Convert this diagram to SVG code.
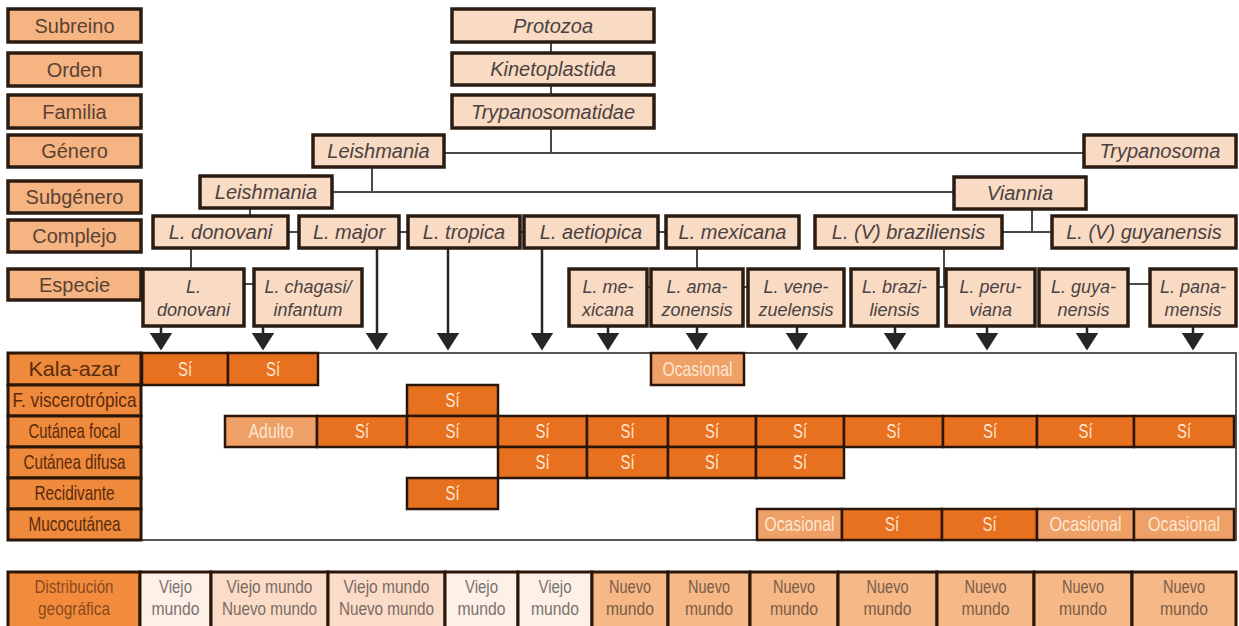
<svg xmlns="http://www.w3.org/2000/svg" width="1239" height="626" viewBox="0 0 1239 626">
<defs>
<style>
.lab rect{fill:#F5B482;stroke:#2a1c12;stroke-width:3.5}
.lab text{font-family:"Liberation Sans",Arial,sans-serif;font-size:20px;fill:#5a4232;text-anchor:middle}
.nd rect{fill:#F9DAC2;stroke:#2a1c12;stroke-width:3.5}
.nd text{font-family:"Liberation Sans",Arial,sans-serif;font-size:20px;font-style:italic;fill:#4a4242;text-anchor:middle}
.sp text{font-size:18px}
.con line{stroke:#4a4a4a;stroke-width:2}
.arr line{stroke:#262626;stroke-width:2.5}
.rl rect{fill:#EF8A3C;stroke:#2a1608;stroke-width:3}
.rl text{font-family:"Liberation Sans",Arial,sans-serif;font-size:21px;fill:#5a2a0c;text-anchor:middle}
.c rect{stroke:#2a1608;stroke-width:2.5}
.c text{font-family:"Liberation Sans",Arial,sans-serif;font-size:21px;fill:#FDE6D2;text-anchor:middle}
.si{fill:#E8711F}
.oc{fill:#EEA066}
.bt rect{stroke:#2a1608;stroke-width:3}
.bt text{font-family:"Liberation Sans",Arial,sans-serif;font-size:18.5px;text-anchor:middle}
</style>
<marker id="ah" markerUnits="userSpaceOnUse" markerWidth="23" markerHeight="18" viewBox="0 0 23 18" refX="11.5" refY="0.5" orient="0">
<path d="M0,0 L23,0 L11.5,18 Z" fill="#262626"/>
</marker>
</defs>
<rect width="1239" height="626" fill="#ffffff"/>

<!-- rank labels -->
<g id="rank-labels" class="lab">
<g id="lab-subreino"><rect x="8" y="9" width="133" height="33"/><text x="74.5" y="33">Subreino</text></g>
<g id="lab-orden"><rect x="8" y="53" width="133" height="33"/><text x="74.5" y="77">Orden</text></g>
<g id="lab-familia"><rect x="8" y="95" width="133" height="33"/><text x="74.5" y="119">Familia</text></g>
<g id="lab-genero"><rect x="8" y="135" width="133" height="32"/><text x="74.5" y="158">Género</text></g>
<g id="lab-subgenero"><rect x="8" y="181" width="133" height="32"/><text x="74.5" y="204">Subgénero</text></g>
<g id="lab-complejo"><rect x="8" y="220" width="133" height="32"/><text x="74.5" y="243">Complejo</text></g>
<g id="lab-especie"><rect x="8" y="269" width="133" height="31"/><text x="74.5" y="292">Especie</text></g>
</g>

<!-- connectors -->
<g id="connectors">
<g class="con">
<line x1="551" y1="42" x2="551" y2="53"/>
<line x1="551" y1="85" x2="551" y2="95"/>
<line x1="551" y1="128" x2="551" y2="153"/>
<line x1="444" y1="153" x2="1084" y2="153"/>
<line x1="372" y1="167" x2="372" y2="192"/>
<line x1="332" y1="192" x2="954" y2="192"/>
<line x1="250" y1="208" x2="250" y2="216"/>
<line x1="1032" y1="209" x2="1032" y2="232"/>
<line x1="1002" y1="232" x2="1052" y2="232"/>
<line x1="288" y1="232" x2="299" y2="232"/>
<line x1="399" y1="232" x2="408" y2="232"/>
<line x1="520" y1="232" x2="524" y2="232"/>
<line x1="658" y1="232" x2="666" y2="232"/>
<line x1="191" y1="248" x2="191" y2="268"/>
<line x1="244" y1="284" x2="254" y2="284"/>
<line x1="697" y1="248" x2="697" y2="268"/>
<line x1="647" y1="287" x2="651" y2="287"/>
<line x1="743" y1="287" x2="748" y2="287"/>
<line x1="944" y1="248" x2="944" y2="287"/>
<line x1="938" y1="287" x2="946" y2="287"/>
<line x1="1128" y1="284" x2="1150" y2="284"/>
</g>
<g class="arr">
<line x1="161" y1="326" x2="161" y2="333" marker-end="url(#ah)"/>
<line x1="263" y1="326" x2="263" y2="333" marker-end="url(#ah)"/>
<line x1="377" y1="248" x2="377" y2="333" marker-end="url(#ah)"/>
<line x1="448" y1="248" x2="448" y2="333" marker-end="url(#ah)"/>
<line x1="542" y1="248" x2="542" y2="333" marker-end="url(#ah)"/>
<line x1="608" y1="326" x2="608" y2="333" marker-end="url(#ah)"/>
<line x1="697" y1="326" x2="697" y2="333" marker-end="url(#ah)"/>
<line x1="797" y1="326" x2="797" y2="333" marker-end="url(#ah)"/>
<line x1="895" y1="326" x2="895" y2="333" marker-end="url(#ah)"/>
<line x1="987" y1="326" x2="987" y2="333" marker-end="url(#ah)"/>
<line x1="1087" y1="326" x2="1087" y2="333" marker-end="url(#ah)"/>
<line x1="1193" y1="326" x2="1193" y2="333" marker-end="url(#ah)"/>
</g>
</g>

<!-- taxonomy nodes -->
<g id="nodes" class="nd">
<g id="n-protozoa"><rect x="452" y="9" width="202" height="33"/><text x="553" y="33">Protozoa</text></g>
<g id="n-kinetoplastida"><rect x="452" y="53" width="202" height="32"/><text x="553" y="76">Kinetoplastida</text></g>
<g id="n-trypanosomatidae"><rect x="452" y="95" width="202" height="33"/><text x="553" y="119">Trypanosomatidae</text></g>
<g id="n-leishmania-gen"><rect x="313" y="135" width="131" height="32"/><text x="378.5" y="158">Leishmania</text></g>
<g id="n-trypanosoma"><rect x="1084" y="135" width="152" height="32"/><text x="1160" y="158">Trypanosoma</text></g>
<g id="n-leishmania-sub"><rect x="200" y="176" width="132" height="32"/><text x="266" y="199">Leishmania</text></g>
<g id="n-viannia"><rect x="954" y="177" width="132" height="32"/><text x="1020" y="200">Viannia</text></g>

<g id="n-c-donovani"><rect x="153" y="216" width="135" height="32"/><text x="220.5" y="239">L. donovani</text></g>
<g id="n-c-major"><rect x="299" y="216" width="100" height="32"/><text x="349" y="239">L. major</text></g>
<g id="n-c-tropica"><rect x="408" y="216" width="112" height="32"/><text x="464" y="239">L. tropica</text></g>
<g id="n-c-aetiopica"><rect x="524" y="216" width="134" height="32"/><text x="591" y="239">L. aetiopica</text></g>
<g id="n-c-mexicana"><rect x="666" y="216" width="133" height="32"/><text x="732.5" y="239">L. mexicana</text></g>
<g id="n-c-braziliensis"><rect x="815" y="216" width="187" height="32"/><text x="908.5" y="239">L. (V) braziliensis</text></g>
<g id="n-c-guyanensis"><rect x="1052" y="216" width="184" height="32"/><text x="1144" y="239">L. (V) guyanensis</text></g>

<g class="sp">
<g id="n-s-donovani"><rect x="143" y="269" width="101" height="57"/><text x="193.5" y="293">L.</text><text x="193.5" y="316">donovani</text></g>
<g id="n-s-chagasi"><rect x="254" y="269" width="108" height="57"/><text x="308" y="293">L. chagasi/</text><text x="308" y="316">infantum</text></g>
<g id="n-s-mexicana"><rect x="569" y="269" width="78" height="57"/><text x="608" y="293">L. me-</text><text x="608" y="316">xicana</text></g>
<g id="n-s-amazonensis"><rect x="651" y="269" width="92" height="57"/><text x="697" y="293">L. ama-</text><text x="697" y="316">zonensis</text></g>
<g id="n-s-venezuelensis"><rect x="748" y="269" width="96" height="57"/><text x="796" y="293">L. vene-</text><text x="796" y="316">zuelensis</text></g>
<g id="n-s-braziliensis"><rect x="851" y="269" width="87" height="57"/><text x="894.5" y="293">L. brazi-</text><text x="894.5" y="316">liensis</text></g>
<g id="n-s-peruviana"><rect x="946" y="269" width="89" height="57"/><text x="990.5" y="293">L. peru-</text><text x="990.5" y="316">viana</text></g>
<g id="n-s-guyanensis"><rect x="1039" y="269" width="89" height="57"/><text x="1083.5" y="293">L. guya-</text><text x="1083.5" y="316">nensis</text></g>
<g id="n-s-panamensis"><rect x="1150" y="269" width="86" height="57"/><text x="1193" y="293">L. pana-</text><text x="1193" y="316">mensis</text></g>
</g>
</g>

<!-- clinical table -->
<g id="table">
<rect x="8" y="353" width="1228" height="187" fill="#ffffff" stroke="#555555" stroke-width="2"/>
<g id="row-labels" class="rl">
<g id="rl-kala"><rect x="8" y="353" width="133" height="32"/><text x="74.5" y="376" textLength="92" lengthAdjust="spacingAndGlyphs">Kala-azar</text></g>
<g id="rl-visc"><rect x="8" y="385" width="133" height="31"/><text x="74.5" y="407" textLength="124" lengthAdjust="spacingAndGlyphs">F. viscerotrópica</text></g>
<g id="rl-focal"><rect x="8" y="416" width="133" height="31"/><text x="74.5" y="438" textLength="92" lengthAdjust="spacingAndGlyphs">Cutánea focal</text></g>
<g id="rl-difusa"><rect x="8" y="447" width="133" height="31"/><text x="74.5" y="469" textLength="102" lengthAdjust="spacingAndGlyphs">Cutánea difusa</text></g>
<g id="rl-recid"><rect x="8" y="478" width="133" height="31"/><text x="74.5" y="500" textLength="80" lengthAdjust="spacingAndGlyphs">Recidivante</text></g>
<g id="rl-muco"><rect x="8" y="509" width="133" height="31"/><text x="74.5" y="531" textLength="92" lengthAdjust="spacingAndGlyphs">Mucocutánea</text></g>
</g>
<g id="cells" class="c">
<!-- Kala-azar -->
<rect class="si" x="142" y="353" width="86" height="32"/><text x="185" y="376" textLength="14" lengthAdjust="spacingAndGlyphs">Sí</text>
<rect class="si" x="228" y="353" width="90" height="32"/><text x="273" y="376" textLength="14" lengthAdjust="spacingAndGlyphs">Sí</text>
<rect class="oc" x="651" y="353" width="93" height="32"/><text x="697.5" y="376" textLength="70" lengthAdjust="spacingAndGlyphs">Ocasional</text>
<!-- F. viscerotropica -->
<rect class="si" x="407" y="385" width="91" height="31"/><text x="452.5" y="407" textLength="14" lengthAdjust="spacingAndGlyphs">Sí</text>
<!-- Cutanea focal -->
<rect class="oc" x="225" y="416" width="92" height="31"/><text x="271" y="438" textLength="45" lengthAdjust="spacingAndGlyphs">Adulto</text>
<rect class="si" x="317" y="416" width="90" height="31"/><text x="362" y="438" textLength="14" lengthAdjust="spacingAndGlyphs">Sí</text>
<rect class="si" x="407" y="416" width="91" height="31"/><text x="452.5" y="438" textLength="14" lengthAdjust="spacingAndGlyphs">Sí</text>
<rect class="si" x="498" y="416" width="89" height="31"/><text x="542.5" y="438" textLength="14" lengthAdjust="spacingAndGlyphs">Sí</text>
<rect class="si" x="587" y="416" width="81" height="31"/><text x="627.5" y="438" textLength="14" lengthAdjust="spacingAndGlyphs">Sí</text>
<rect class="si" x="668" y="416" width="88" height="31"/><text x="712" y="438" textLength="14" lengthAdjust="spacingAndGlyphs">Sí</text>
<rect class="si" x="756" y="416" width="88" height="31"/><text x="800" y="438" textLength="14" lengthAdjust="spacingAndGlyphs">Sí</text>
<rect class="si" x="844" y="416" width="99" height="31"/><text x="893.5" y="438" textLength="14" lengthAdjust="spacingAndGlyphs">Sí</text>
<rect class="si" x="943" y="416" width="94" height="31"/><text x="990" y="438" textLength="14" lengthAdjust="spacingAndGlyphs">Sí</text>
<rect class="si" x="1037" y="416" width="97" height="31"/><text x="1085.5" y="438" textLength="14" lengthAdjust="spacingAndGlyphs">Sí</text>
<rect class="si" x="1134" y="416" width="100" height="31"/><text x="1184" y="438" textLength="14" lengthAdjust="spacingAndGlyphs">Sí</text>
<!-- Cutanea difusa -->
<rect class="si" x="498" y="447" width="89" height="31"/><text x="542.5" y="469" textLength="14" lengthAdjust="spacingAndGlyphs">Sí</text>
<rect class="si" x="587" y="447" width="81" height="31"/><text x="627.5" y="469" textLength="14" lengthAdjust="spacingAndGlyphs">Sí</text>
<rect class="si" x="668" y="447" width="88" height="31"/><text x="712" y="469" textLength="14" lengthAdjust="spacingAndGlyphs">Sí</text>
<rect class="si" x="756" y="447" width="88" height="31"/><text x="800" y="469" textLength="14" lengthAdjust="spacingAndGlyphs">Sí</text>
<!-- Recidivante -->
<rect class="si" x="407" y="478" width="91" height="31"/><text x="452.5" y="500" textLength="14" lengthAdjust="spacingAndGlyphs">Sí</text>
<!-- Mucocutanea -->
<rect class="oc" x="757" y="509" width="85" height="31"/><text x="799.5" y="531" textLength="70" lengthAdjust="spacingAndGlyphs">Ocasional</text>
<rect class="si" x="842" y="509" width="100" height="31"/><text x="892" y="531" textLength="14" lengthAdjust="spacingAndGlyphs">Sí</text>
<rect class="si" x="942" y="509" width="95" height="31"/><text x="989.5" y="531" textLength="14" lengthAdjust="spacingAndGlyphs">Sí</text>
<rect class="oc" x="1037" y="509" width="97" height="31"/><text x="1085.5" y="531" textLength="72" lengthAdjust="spacingAndGlyphs">Ocasional</text>
<rect class="oc" x="1134" y="509" width="100" height="31"/><text x="1184" y="531" textLength="72" lengthAdjust="spacingAndGlyphs">Ocasional</text>
</g>
</g>

<!-- geographic distribution -->
<g id="distribution" class="bt">
<g id="d-label"><rect x="8" y="572" width="132" height="60" fill="#F28C3C"/><text x="74" y="593" fill="#8a4a1e" textLength="79" lengthAdjust="spacingAndGlyphs">Distribución</text><text x="74" y="615" fill="#8a4a1e" textLength="72" lengthAdjust="spacingAndGlyphs">geográfica</text></g>
<g id="d1"><rect x="140" y="572" width="71" height="60" fill="#FDF0E6"/><text x="175.5" y="593" fill="#7a7070" textLength="33" lengthAdjust="spacingAndGlyphs">Viejo</text><text x="175.5" y="615" fill="#7a7070" textLength="48" lengthAdjust="spacingAndGlyphs">mundo</text></g>
<g id="d2"><rect x="211" y="572" width="117" height="60" fill="#FADCC8"/><text x="269.5" y="593" fill="#7a6a62" textLength="86" lengthAdjust="spacingAndGlyphs">Viejo mundo</text><text x="269.5" y="615" fill="#7a6a62" textLength="95" lengthAdjust="spacingAndGlyphs">Nuevo mundo</text></g>
<g id="d3"><rect x="328" y="572" width="117" height="60" fill="#FADCC8"/><text x="386.5" y="593" fill="#7a6a62" textLength="86" lengthAdjust="spacingAndGlyphs">Viejo mundo</text><text x="386.5" y="615" fill="#7a6a62" textLength="95" lengthAdjust="spacingAndGlyphs">Nuevo mundo</text></g>
<g id="d4"><rect x="445" y="572" width="73" height="60" fill="#FDF0E6"/><text x="481.5" y="593" fill="#7a7070" textLength="33" lengthAdjust="spacingAndGlyphs">Viejo</text><text x="481.5" y="615" fill="#7a7070" textLength="48" lengthAdjust="spacingAndGlyphs">mundo</text></g>
<g id="d5"><rect x="518" y="572" width="74" height="60" fill="#FDF0E6"/><text x="555" y="593" fill="#7a7070" textLength="33" lengthAdjust="spacingAndGlyphs">Viejo</text><text x="555" y="615" fill="#7a7070" textLength="48" lengthAdjust="spacingAndGlyphs">mundo</text></g>
<g id="d6"><rect x="592" y="572" width="76" height="60" fill="#F6B886"/><text x="630" y="593" fill="#7a5c48" textLength="42" lengthAdjust="spacingAndGlyphs">Nuevo</text><text x="630" y="615" fill="#7a5c48" textLength="48" lengthAdjust="spacingAndGlyphs">mundo</text></g>
<g id="d7"><rect x="668" y="572" width="82" height="60" fill="#F6B886"/><text x="709" y="593" fill="#7a5c48" textLength="42" lengthAdjust="spacingAndGlyphs">Nuevo</text><text x="709" y="615" fill="#7a5c48" textLength="48" lengthAdjust="spacingAndGlyphs">mundo</text></g>
<g id="d8"><rect x="750" y="572" width="88" height="60" fill="#F6B886"/><text x="794" y="593" fill="#7a5c48" textLength="42" lengthAdjust="spacingAndGlyphs">Nuevo</text><text x="794" y="615" fill="#7a5c48" textLength="48" lengthAdjust="spacingAndGlyphs">mundo</text></g>
<g id="d9"><rect x="838" y="572" width="99" height="60" fill="#F6B886"/><text x="887.5" y="593" fill="#7a5c48" textLength="42" lengthAdjust="spacingAndGlyphs">Nuevo</text><text x="887.5" y="615" fill="#7a5c48" textLength="48" lengthAdjust="spacingAndGlyphs">mundo</text></g>
<g id="d10"><rect x="937" y="572" width="97" height="60" fill="#F6B886"/><text x="985.5" y="593" fill="#7a5c48" textLength="42" lengthAdjust="spacingAndGlyphs">Nuevo</text><text x="985.5" y="615" fill="#7a5c48" textLength="48" lengthAdjust="spacingAndGlyphs">mundo</text></g>
<g id="d11"><rect x="1034" y="572" width="98" height="60" fill="#F6B886"/><text x="1083" y="593" fill="#7a5c48" textLength="42" lengthAdjust="spacingAndGlyphs">Nuevo</text><text x="1083" y="615" fill="#7a5c48" textLength="48" lengthAdjust="spacingAndGlyphs">mundo</text></g>
<g id="d12"><rect x="1132" y="572" width="104" height="60" fill="#F6B886"/><text x="1184" y="593" fill="#7a5c48" textLength="42" lengthAdjust="spacingAndGlyphs">Nuevo</text><text x="1184" y="615" fill="#7a5c48" textLength="48" lengthAdjust="spacingAndGlyphs">mundo</text></g>
</g>
</svg>
